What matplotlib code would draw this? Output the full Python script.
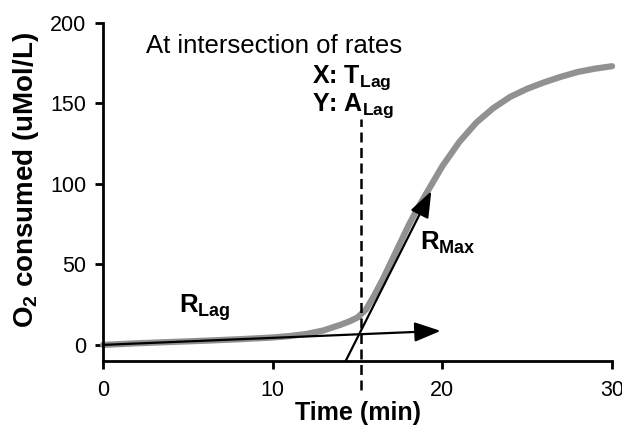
import numpy as np
import matplotlib
matplotlib.use("Agg")
from matplotlib import pyplot as plt

plt.rcParams['font.family'] = ['Liberation Sans', 'DejaVu Sans']
plt.rcParams['mathtext.fontset'] = 'custom'
plt.rcParams['mathtext.rm'] = 'Liberation Sans'
plt.rcParams['mathtext.bf'] = 'Liberation Sans:bold'

# O2 consumption curve
time_min = [0, 2, 4, 6, 8, 10, 11, 12, 13, 14, 14.5, 15, 15.5, 16, 16.5, 17,
            17.5, 18, 18.5, 19, 20, 21, 22, 23, 24, 25, 26, 27, 28, 29, 30]
o2 = [0, 1, 1.8, 2.6, 3.5, 4.6, 5.5, 6.8, 9, 12.5, 14.5, 17, 22, 31, 41, 52,
      63, 74, 84, 93, 111, 126, 138, 147, 154, 159, 163, 166.5, 169.5, 171.5, 173]

# fitted rate lines (start, end)
r_lag = [(0, 0), (19.9, 8.7)]
r_max = [(14.3, -10), (19.35, 95.5)]
t_lag = 15.2

fig = plt.figure(figsize=(6.22, 4.29), dpi=100)
ax = fig.add_axes([0.1656, 0.1585, 0.8184, 0.7885])

ax.plot(time_min, o2, color='#919191', lw=4.5, solid_capstyle='round', clip_on=False, zorder=2)

arrow = dict(arrowstyle='-|>,head_length=0.8,head_width=0.3', mutation_scale=20,
             lw=1.6, color='black', shrinkA=0, shrinkB=0)
for line in (r_lag, r_max):
    ax.annotate('', xy=line[1], xytext=line[0], arrowprops=arrow,
                annotation_clip=False, zorder=3)

ax.plot([t_lag, t_lag], [-28, 140], color='black', lw=1.8,
        linestyle=(0, (4, 2.2)), clip_on=False, zorder=3)

ax.text(2.55, 181, 'At intersection of rates', fontsize=18.5, va='baseline')
ax.text(12.3, 163, r'X: $\mathbf{T_{Lag}}$', fontsize=18, fontweight='bold', va='baseline')
ax.text(12.3, 145.5, r'Y: $\mathbf{A_{Lag}}$', fontsize=18, fontweight='bold', va='baseline')
ax.text(4.5, 19.8, r'$\mathbf{R_{Lag}}$', fontsize=18.5, va='baseline')
ax.text(18.7, 58.8, r'$\mathbf{R_{Max}}$', fontsize=18.5, va='baseline')

ax.set_xlim(0, 30)
ax.set_ylim(-10, 200)
ax.set_xticks([0, 10, 20, 30])
ax.set_yticks([0, 50, 100, 150, 200])
ax.spines['top'].set_visible(False)
ax.spines['right'].set_visible(False)
for s in ('left', 'bottom'):
    ax.spines[s].set_linewidth(2)
ax.tick_params(width=2, length=6, labelsize=15.5, direction='out', pad=6)
ax.tick_params(axis='x', pad=8)

ax.set_xlabel('Time (min)', fontsize=18, fontweight='bold', labelpad=0)
ax.set_ylabel(r'$\mathbf{O_2}$ consumed (uMol/L)', fontsize=20, fontweight='bold')
ax.yaxis.set_label_coords(-0.122, 0.535)

fig.savefig('out.png', dpi=100)
